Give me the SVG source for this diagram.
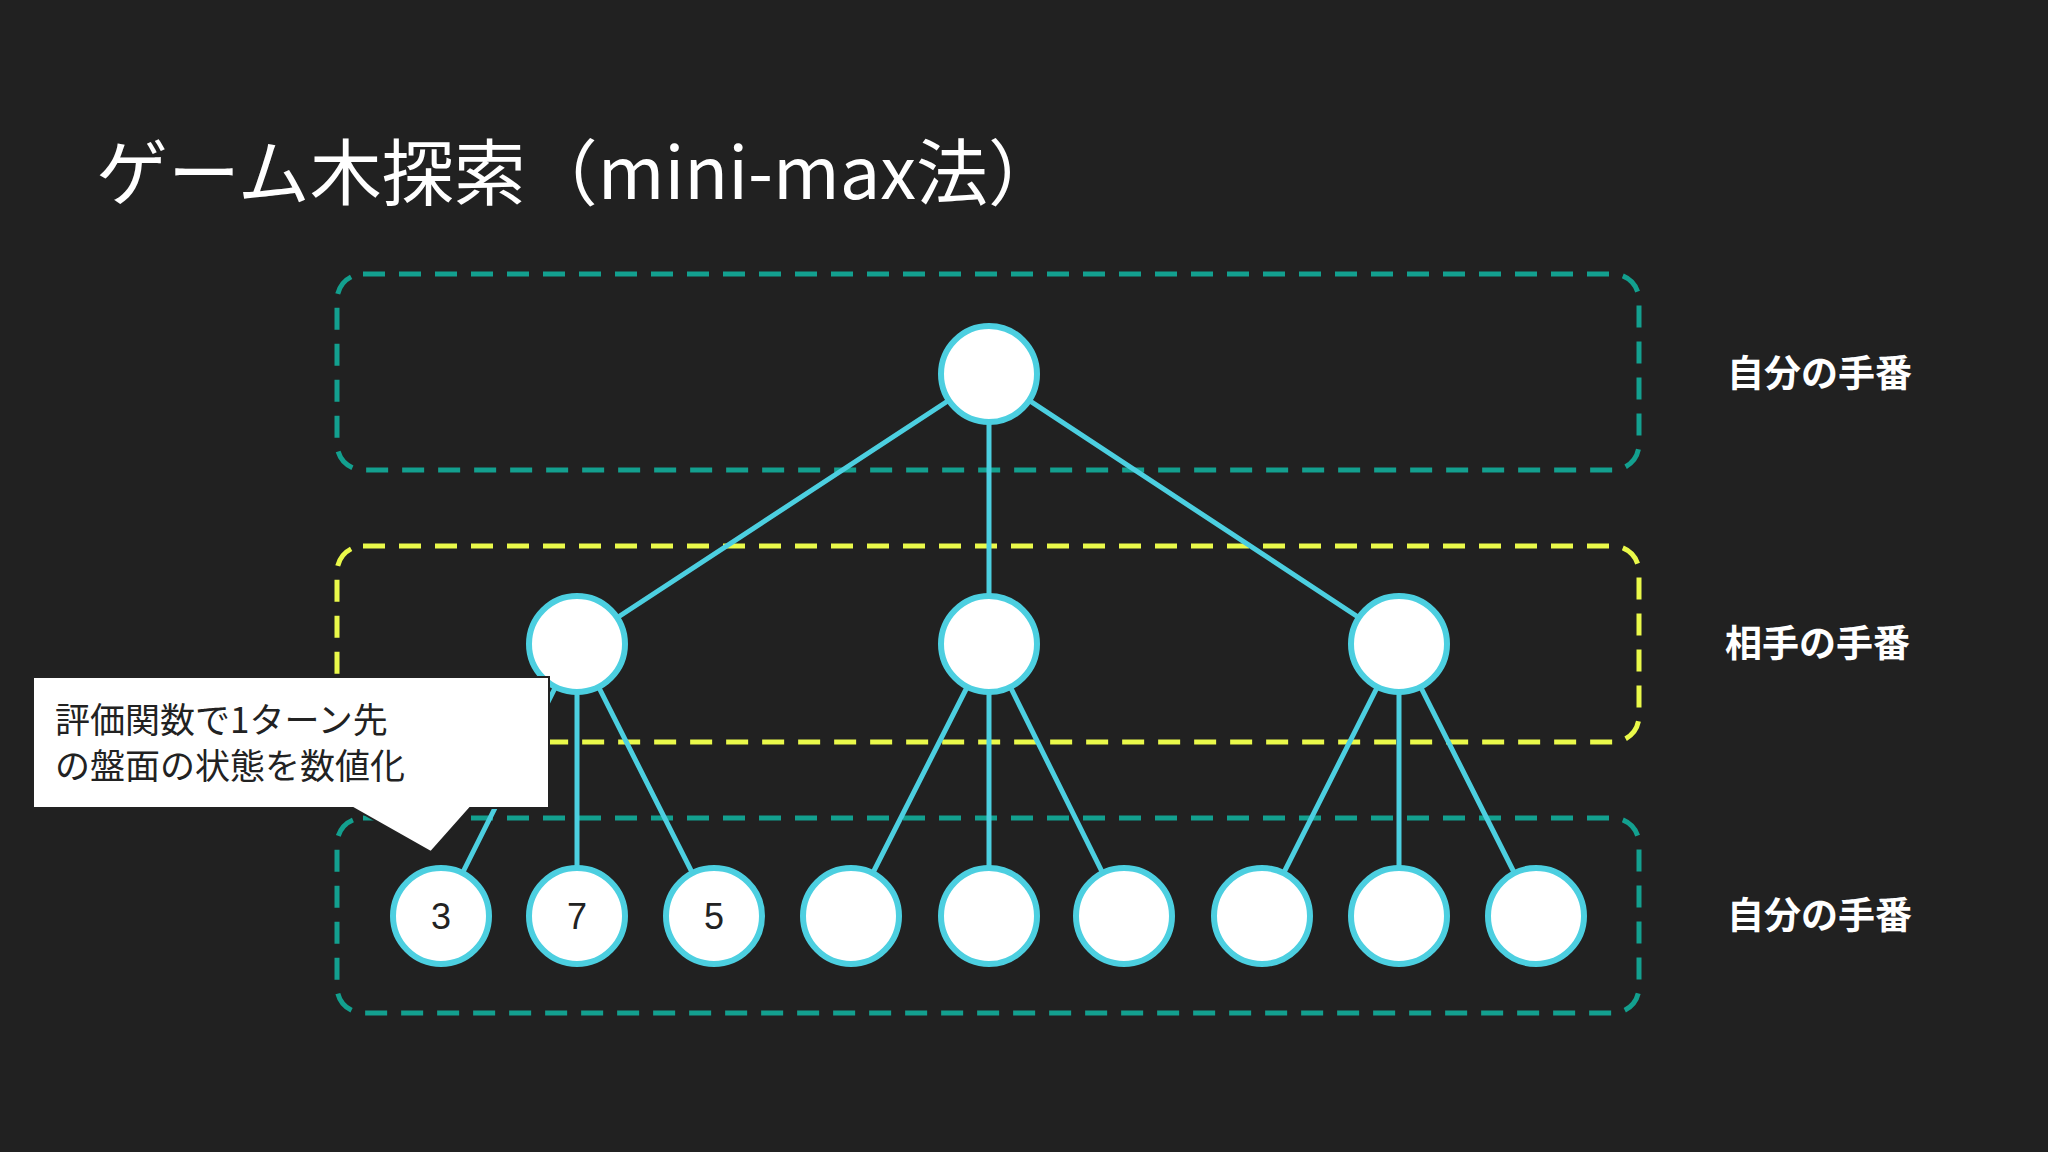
<svg xmlns="http://www.w3.org/2000/svg" width="2048" height="1152" viewBox="0 0 2048 1152">
<style>
.box{fill:none;stroke-width:5;stroke-dasharray:22 14}
.t{stroke:#13a08f}.y{stroke:#eaf94a}
.n{fill:#fff;stroke:#4ccfe0;stroke-width:6}
.e{stroke:#4ccfe0;stroke-width:5;fill:none}
.lbl{font-family:"Noto Sans CJK JP","Noto Sans",sans-serif;font-weight:bold;font-size:37px;fill:#fff}
.num{font-family:"Liberation Sans",sans-serif;font-size:36px;fill:#222;text-anchor:middle}
</style>
<rect width="2048" height="1152" fill="#212121"/>
<text x="96" y="199" font-family="Noto Sans CJK JP,Noto Sans,sans-serif" font-size="72" fill="#fff">ゲーム木探索（mini-max法）</text>
<g id="layers">
<rect class="box t" x="337" y="274" width="1302" height="196" rx="26"/>
<rect class="box y" x="337" y="546" width="1302" height="196" rx="26"/>
<rect class="box t" x="337" y="818" width="1302" height="195" rx="26"/>
</g>
<g id="connectors">
<path class="e" d="M989 374L577 644M989 374V644M989 374L1399 644M577 644L441 916M577 644V916M577 644L714 916M989 644L851 916M989 644V916M989 644L1124 916M1399 644L1262 916M1399 644V916M1399 644L1536 916"/>
</g>
<g id="root"><circle class="n" cx="989" cy="374" r="48"/></g>
<g id="mid"><circle class="n" cx="577" cy="644" r="48"/><circle class="n" cx="989" cy="644" r="48"/><circle class="n" cx="1399" cy="644" r="48"/></g>
<g id="leaves">
<circle class="n" cx="441" cy="916" r="48"/><circle class="n" cx="577" cy="916" r="48"/><circle class="n" cx="714" cy="916" r="48"/>
<circle class="n" cx="851" cy="916" r="48"/><circle class="n" cx="989" cy="916" r="48"/><circle class="n" cx="1124" cy="916" r="48"/>
<circle class="n" cx="1262" cy="916" r="48"/><circle class="n" cx="1399" cy="916" r="48"/><circle class="n" cx="1536" cy="916" r="48"/>
<text class="num" x="441" y="929">3</text><text class="num" x="577" y="929">7</text><text class="num" x="714" y="929">5</text>
</g>
<g id="labels">
<text class="lbl" x="1727" y="387">自分の手番</text>
<text class="lbl" x="1725" y="657">相手の手番</text>
<text class="lbl" x="1727" y="929">自分の手番</text>
</g>
<g id="callout">
<path d="M33 677H549V808H470L431 852L353 808H33Z" fill="#fff" stroke="#222" stroke-width="2"/>
<text x="55" y="733" font-family="Noto Sans CJK JP,Noto Sans,sans-serif" font-size="35" fill="#222">評価関数で1ターン先</text>
<text x="55" y="779" font-family="Noto Sans CJK JP,Noto Sans,sans-serif" font-size="35" fill="#222">の盤面の状態を数値化</text>
</g>
</svg>
